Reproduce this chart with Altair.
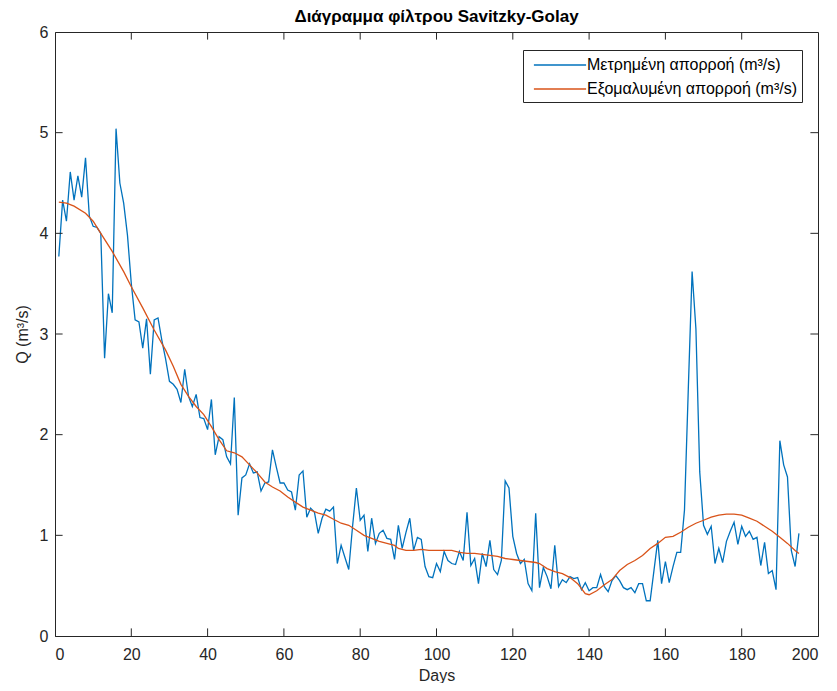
import altair as alt
import pandas as pd

# ---- data ----
days = list(range(1, 196))
measured = [
    3.77, 4.33, 4.12, 4.61, 4.33, 4.57, 4.36, 4.75, 4.17, 4.07,
    4.06, 4.00, 2.76, 3.40, 3.21, 5.04, 4.50, 4.30, 3.98, 3.50,
    3.14, 3.12, 2.86, 3.15, 2.60, 3.14, 3.16, 2.94, 2.75, 2.53,
    2.50, 2.45, 2.32, 2.65, 2.38, 2.28, 2.40, 2.17, 2.16, 2.05,
    2.35, 1.80, 1.98, 1.95, 1.78, 1.71, 2.37, 1.20, 1.57, 1.60,
    1.71, 1.62, 1.63, 1.44, 1.52, 1.53, 1.85, 1.68, 1.52, 1.52,
    1.45, 1.43, 1.25, 1.60, 1.64, 1.18, 1.27, 1.23, 1.02, 1.17,
    1.26, 1.24, 1.28, 0.72, 0.90, 0.78, 0.66, 1.09, 1.47, 1.15,
    1.20, 0.84, 1.17, 0.92, 1.02, 1.05, 0.97, 0.96, 0.76, 1.10,
    0.87, 1.03, 1.17, 0.85, 0.98, 0.96, 0.69, 0.59, 0.58, 0.72,
    0.64, 0.84, 0.75, 0.72, 0.71, 0.84, 0.75, 1.23, 0.70, 0.77,
    0.52, 0.82, 0.69, 0.95, 0.66, 0.61, 0.75, 1.54, 1.47, 0.99,
    0.82, 0.72, 0.76, 0.52, 0.45, 1.22, 0.48, 0.68, 0.59, 0.47,
    0.90, 0.49, 0.56, 0.53, 0.59, 0.57, 0.58, 0.46, 0.53, 0.45,
    0.48, 0.48, 0.61, 0.49, 0.44, 0.55, 0.60, 0.55, 0.48, 0.46,
    0.48, 0.43, 0.52, 0.52, 0.35, 0.35, 0.65, 0.95, 0.52, 0.74,
    0.53, 0.69, 0.83, 0.83, 1.25, 2.45, 3.62, 3.05, 1.63, 1.10,
    1.01, 1.09, 0.72, 0.87, 0.73, 0.94, 1.04, 1.13, 0.91, 1.09,
    0.99, 1.04, 0.96, 0.98, 0.70, 0.93, 0.62, 0.65, 0.46, 1.94,
    1.70, 1.58, 0.85, 0.69, 1.02,
]

smooth_days = [
    1, 3, 5, 8, 10, 12, 15, 18, 20, 23, 26, 29, 31, 33, 35, 37, 39, 41, 43, 45,
    47, 49, 51, 53, 55, 57, 59, 61, 63, 65, 67, 69, 71, 73, 75, 77, 79, 81, 83, 85,
    87, 89, 90, 92, 94, 96, 98, 100, 102, 104, 106, 108, 110, 112, 114, 116, 118, 120, 122, 124,
    126, 127, 129, 131, 133, 135, 137, 139, 140, 142, 144, 146, 148, 150, 152, 154, 156, 158, 160, 162,
    164, 166, 168, 170, 172, 174, 176, 178, 180, 182, 184, 186, 188, 190, 192, 194, 195,
]
smooth_vals = [
    4.31, 4.30, 4.27, 4.20, 4.12, 4.00, 3.82, 3.62, 3.47, 3.26, 3.04, 2.84, 2.68, 2.50, 2.38, 2.28, 2.20, 2.08, 1.95, 1.84,
    1.82, 1.78, 1.70, 1.62, 1.53, 1.48, 1.44, 1.38, 1.33, 1.28, 1.25, 1.22, 1.20, 1.16, 1.12, 1.10, 1.05, 1.00, 0.97, 0.94,
    0.92, 0.90, 0.87, 0.85, 0.85, 0.86, 0.85, 0.85, 0.85, 0.85, 0.83, 0.82, 0.82, 0.81, 0.80, 0.79, 0.77, 0.76, 0.75, 0.74,
    0.73, 0.72, 0.67, 0.64, 0.62, 0.58, 0.52, 0.42, 0.41, 0.45, 0.51, 0.56, 0.65, 0.71, 0.75, 0.80, 0.87, 0.92, 0.98, 0.99,
    1.03, 1.08, 1.12, 1.15, 1.18, 1.20, 1.21, 1.21, 1.20, 1.17, 1.14, 1.09, 1.04, 0.98, 0.92, 0.85, 0.82,
]

series_names = ["Μετρημένη απορροή (m³/s)", "Εξομαλυμένη απορροή (m³/s)"]
series_colors = ["#0072BD", "#D95319"]

x_ticks = [0, 20, 40, 60, 80, 100, 120, 140, 160, 180, 200]
y_ticks = [0, 1, 2, 3, 4, 5, 6]

W, H = 763, 604
TICK = 7.6
FONT = "Liberation Sans"
AX = "#262626"

df = pd.concat([
    pd.DataFrame({"day": days, "Q": measured, "series": series_names[0]}),
    pd.DataFrame({"day": smooth_days, "Q": smooth_vals, "series": series_names[1]}),
], ignore_index=True)

xs = alt.Scale(domain=[0, 200], nice=False)
ys = alt.Scale(domain=[0, 6], nice=False)

lines = alt.Chart(df).mark_line(strokeWidth=1.3).encode(
    x=alt.X("day:Q", scale=xs,
            axis=alt.Axis(values=x_ticks, format="d", title="Days", ticks=False, tickSize=0,
                          labelPadding=10, titlePadding=5, grid=False)),
    y=alt.Y("Q:Q", scale=ys,
            axis=alt.Axis(values=y_ticks, format="d", title="Q (m³/s)", ticks=False, tickSize=0,
                          labelPadding=7, titlePadding=9, grid=False)),
    color=alt.Color("series:N",
                    scale=alt.Scale(domain=series_names, range=series_colors),
                    sort=series_names,
                    legend=alt.Legend(title=None, orient="none", legendX=468, legendY=18,
                                      symbolType="M-2.9,0H2.9", symbolSize=324,
                                      symbolStrokeWidth=1.3, symbolOffset=22,
                                      labelFontSize=16, labelFont=FONT, labelColor="#000000",
                                      labelLimit=400, labelOffset=17,
                                      strokeColor=AX, fillColor="#ffffff",
                                      padding=5, rowPadding=6)),
    detail="series:N",
)

xt = pd.DataFrame({"t": x_ticks[1:-1]})
yt = pd.DataFrame({"t": y_ticks[1:-1]})

bottom_ticks = alt.Chart(xt).mark_rule(color=AX, strokeWidth=1).encode(
    x=alt.X("t:Q", scale=xs), y=alt.value(H), y2=alt.value(H - TICK))
top_ticks = alt.Chart(xt).mark_rule(color=AX, strokeWidth=1).encode(
    x=alt.X("t:Q", scale=xs), y=alt.value(0), y2=alt.value(TICK))
left_ticks = alt.Chart(yt).mark_rule(color=AX, strokeWidth=1).encode(
    y=alt.Y("t:Q", scale=ys), x=alt.value(0), x2=alt.value(TICK))
right_ticks = alt.Chart(yt).mark_rule(color=AX, strokeWidth=1).encode(
    y=alt.Y("t:Q", scale=ys), x=alt.value(W), x2=alt.value(W - TICK))

chart = alt.layer(lines, bottom_ticks, top_ticks, left_ticks, right_ticks).properties(
    width=W, height=H,
    background="#ffffff",
    title=alt.TitleParams("Διάγραμμα φίλτρου Savitzky-Golay", font=FONT, fontSize=17,
                          fontWeight="bold", color="#000000", anchor="middle",
                          frame="group", offset=-2),
    autosize=alt.AutoSizeParams(type="none"),
    padding={"left": 47, "top": 24, "right": 11, "bottom": 47},
).configure_view(
    stroke=AX, strokeWidth=1,
).configure_axis(
    domainColor=AX, labelColor=AX, titleColor=AX, labelFont=FONT, titleFont=FONT,
    labelFontSize=16, titleFontSize=16, titleFontWeight="normal", domainWidth=1,
)

chart.save("out.html", embed_options={"renderer": "svg", "actions": False})
